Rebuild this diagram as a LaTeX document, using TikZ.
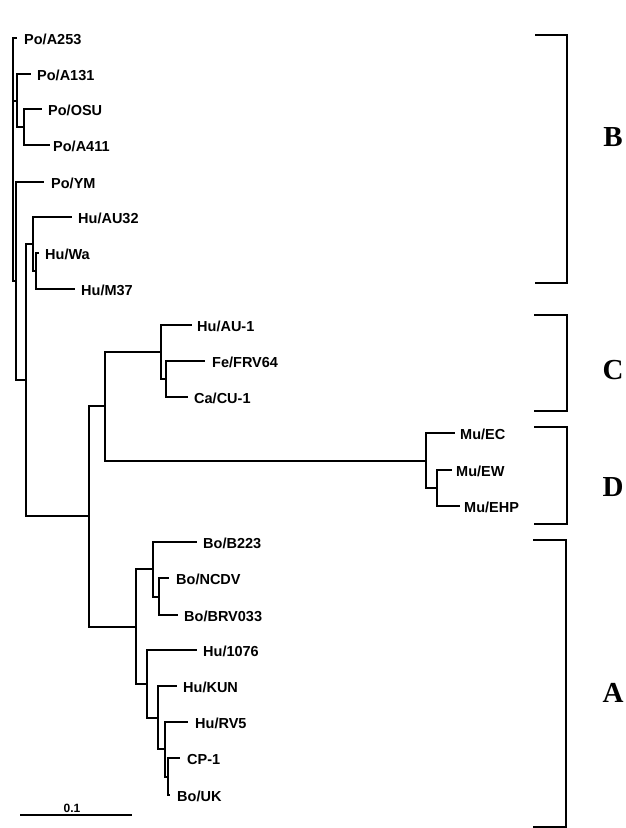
\documentclass[tikz,border=0pt]{standalone}
\usepackage{fontspec}
\setmainfont{Liberation Serif}
\setsansfont{Liberation Sans}
\begin{document}
\begin{tikzpicture}[x=1pt,y=-1pt,
  br/.style={line width=1.3pt},
  lf/.style={anchor=west, inner sep=0pt, font=\sffamily\bfseries\fontsize{14.5}{16}\selectfont},
  grp/.style={inner sep=0pt, font=\rmfamily\bfseries\fontsize{29}{32}\selectfont},
  bk/.style={line width=1.8pt}]
\useasboundingbox (0,0) rectangle (625,828);
% leaf tips
\coordinate (tA253) at (17,38);
\coordinate (tA131) at (31,74);
\coordinate (tOSU) at (42,109);
\coordinate (tA411) at (50,145);
\coordinate (tYM) at (44,182);
\coordinate (tAU32) at (72,217);
\coordinate (tWa) at (39,253);
\coordinate (tM37) at (75,289);
\coordinate (tAU1) at (192,325);
\coordinate (tFRV) at (205,361);
\coordinate (tCU) at (188,397);
\coordinate (tEC) at (455,433);
\coordinate (tEW) at (452,470);
\coordinate (tEHP) at (460,506);
\coordinate (tB223) at (197,542);
\coordinate (tNCDV) at (169,578);
\coordinate (tBRV) at (178,615);
\coordinate (t1076) at (197,650);
\coordinate (tKUN) at (177,686);
\coordinate (tRV5) at (188,722);
\coordinate (tCP1) at (180,758);
\coordinate (tUK) at (170,795);
% labels
\node[lf] (lA253) at (24,39) {Po/A253};
\node[lf] (lA131) at (37,75) {Po/A131};
\node[lf] (lOSU) at (48,110) {Po/OSU};
\node[lf] (lA411) at (53,146) {Po/A411};
\node[lf] (lYM) at (51,183) {Po/YM};
\node[lf] (lAU32) at (78,218) {Hu/AU32};
\node[lf] (lWa) at (45,254) {Hu/Wa};
\node[lf] (lM37) at (81,290) {Hu/M37};
\node[lf] (lAU1) at (197,326) {Hu/AU-1};
\node[lf] (lFRV) at (212,362) {Fe/FRV64};
\node[lf] (lCU) at (194,398) {Ca/CU-1};
\node[lf] (lEC) at (460,434) {Mu/EC};
\node[lf] (lEW) at (456,471) {Mu/EW};
\node[lf] (lEHP) at (464,507) {Mu/EHP};
\node[lf] (lB223) at (203,543) {Bo/B223};
\node[lf] (lNCDV) at (176,579) {Bo/NCDV};
\node[lf] (lBRV) at (184,616) {Bo/BRV033};
\node[lf] (l1076) at (203,651) {Hu/1076};
\node[lf] (lKUN) at (183,687) {Hu/KUN};
\node[lf] (lRV5) at (195,723) {Hu/RV5};
\node[lf] (lCP1) at (187,759) {CP-1};
\node[lf] (lUK) at (177,796) {Bo/UK};
% internal nodes
\coordinate (n1) at (24,127);
\coordinate (n2) at (17,101);
\coordinate (n3) at (36,271);
\coordinate (n4) at (33,244);
\coordinate (n5) at (166,379);
\coordinate (n6) at (161,352);
\coordinate (n7) at (437,488);
\coordinate (n8) at (426,461);
\coordinate (n9) at (105,406);
\coordinate (n10) at (159,597);
\coordinate (n11) at (153,569);
\coordinate (n12) at (168,777);
\coordinate (n13) at (165,749);
\coordinate (n14) at (158,718);
\coordinate (n15) at (147,684);
\coordinate (n16) at (136,627);
\coordinate (n17) at (89,516);
\coordinate (n18) at (26,380);
\coordinate (n19) at (16,281);
\coordinate (root) at (13,100);
\foreach \p/\c in {root/tA253, root/n2, root/n19, n2/tA131, n2/n1, n1/tOSU, n1/tA411,
  n19/tYM, n19/n18, n18/n4, n18/n17, n4/tAU32, n4/n3, n3/tWa, n3/tM37,
  n17/n9, n17/n16, n9/n6, n9/n8, n6/tAU1, n6/n5, n5/tFRV, n5/tCU,
  n8/tEC, n8/n7, n7/tEW, n7/tEHP, n16/n11, n16/n15, n11/tB223, n11/n10,
  n10/tNCDV, n10/tBRV, n15/t1076, n15/n14, n14/tKUN, n14/n13, n13/tRV5, n13/n12,
  n12/tCP1, n12/tUK}
  \draw[br] (\p) |- (\c);
% brackets
\draw[bk] (535,35) -| (567,283) -- (535,283);
\draw[bk] (534,315) -| (567,411) -- (534,411);
\draw[bk] (534,427) -| (567,524) -- (534,524);
\draw[bk] (533,540) -| (566,827) -- (533,827);
\node[grp] (gB) at (613,137) {B};
\node[grp] (gC) at (613,370) {C};
\node[grp] (gD) at (613,487) {D};
\node[grp] (gA) at (613,693) {A};
% scale bar
\coordinate (s0) at (20,815);
\coordinate (s1) at (132,815);
\draw[br] (s0) -- (s1);
\node[anchor=south, inner sep=1pt, font=\sffamily\bfseries\fontsize{12}{14}\selectfont] (sl) at (72,814) {0.1};
\end{tikzpicture}
\end{document}
